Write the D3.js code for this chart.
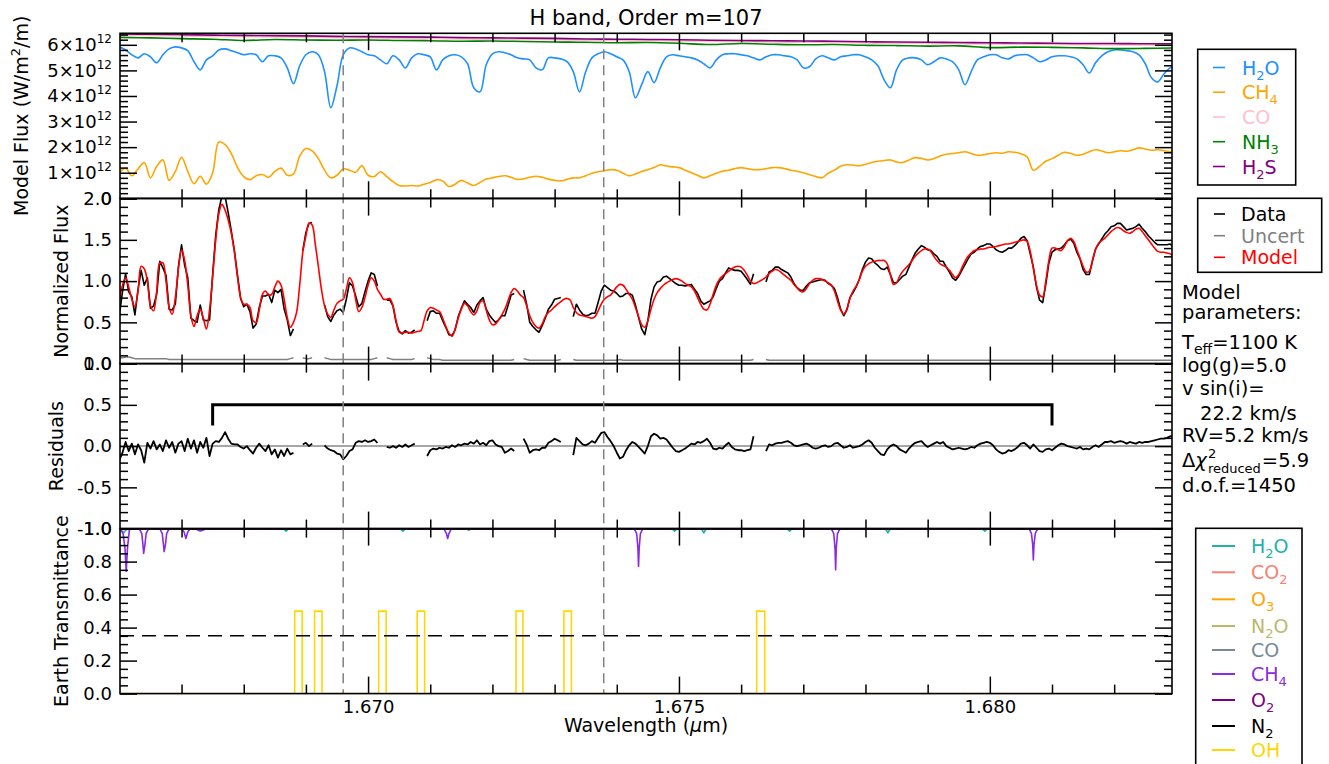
<!DOCTYPE html>
<html>
<head>
<meta charset="utf-8">
<script src="https://cdn.jsdelivr.net/npm/d3@7"></script>
<style>
  body { margin: 0; background: #fff; }
  text { font-family: "DejaVu Sans", sans-serif; }
</style>
</head>
<body>
<svg id="chart" width="1329" height="764"></svg>
<script>
// ---------------- data ----------------
const titleText = "H band, Order m=107";

// Observed spectrum grid (wavelength in microns)
const gridStart = 1.66600, gridStep = 0.00005;

const modelFlux = [
  0.76,0.95,1.04,0.93,0.78,0.69,0.88,1.18,1.15,1.00,0.70,0.64,0.88,1.22,1.22,1.00,0.68,0.60,0.80,1.15,
  1.38,1.25,0.95,0.58,0.45,0.58,0.66,0.55,0.42,0.65,1.05,1.50,1.82,1.93,1.86,1.74,1.58,1.35,1.05,0.80,
  0.72,0.72,0.68,0.52,0.50,0.65,0.84,0.88,0.83,0.84,0.93,1.00,0.95,0.78,0.56,0.44,0.50,0.62,0.95,1.35,
  1.55,1.70,1.68,1.45,1.18,0.90,0.70,0.60,0.56,0.65,0.73,0.76,0.78,0.90,1.04,0.98,0.78,0.63,0.68,0.80,
  0.95,1.04,1.00,0.90,0.84,0.78,0.78,0.79,0.70,0.52,0.38,0.37,0.38,0.38,0.37,0.38,0.39,0.40,0.52,0.64,
  0.68,0.67,0.65,0.63,0.55,0.45,0.37,0.33,0.42,0.55,0.66,0.73,0.70,0.63,0.59,0.64,0.74,0.76,0.65,0.53,
  0.47,0.48,0.53,0.59,0.66,0.76,0.86,0.91,0.88,0.83,0.80,0.70,0.58,0.50,0.45,0.43,0.48,0.57,0.62,0.65,
  0.69,0.72,0.75,0.78,0.79,0.77,0.68,0.62,0.59,0.58,0.57,0.56,0.55,0.57,0.64,0.72,0.78,0.81,0.83,0.88,
  0.93,0.96,0.95,0.90,0.84,0.78,0.68,0.57,0.47,0.44,0.52,0.66,0.78,0.86,0.91,0.95,0.98,1.00,1.02,1.03,
  1.02,1.00,0.97,0.95,0.93,0.88,0.80,0.72,0.66,0.65,0.72,0.84,0.95,1.02,1.06,1.09,1.12,1.15,1.17,1.18,
  1.17,1.13,1.07,1.00,0.97,0.98,1.00,1.02,1.05,1.09,1.12,1.14,1.13,1.10,1.07,1.04,1.01,0.96,0.92,0.88,
  0.87,0.91,0.97,1.01,1.03,1.03,1.02,1.00,0.98,0.95,0.88,0.76,0.65,0.60,0.66,0.79,0.88,0.94,1.02,1.12,
  1.18,1.21,1.23,1.24,1.25,1.25,1.25,1.21,1.08,0.96,0.98,1.06,1.12,1.16,1.20,1.25,1.30,1.34,1.37,1.39,
  1.39,1.36,1.30,1.25,1.21,1.19,1.17,1.13,1.08,1.04,1.08,1.16,1.24,1.30,1.34,1.37,1.38,1.39,1.39,1.40,
  1.41,1.41,1.42,1.43,1.44,1.45,1.45,1.46,1.47,1.48,1.49,1.50,1.48,1.36,1.15,0.95,0.83,0.81,1.00,1.25,
  1.40,1.40,1.38,1.37,1.42,1.49,1.52,1.48,1.38,1.28,1.18,1.11,1.12,1.25,1.38,1.46,1.49,1.52,1.56,1.60,
  1.63,1.65,1.64,1.61,1.59,1.58,1.60,1.63,1.64,1.60,1.55,1.50,1.45,1.40,1.36,1.35,1.35,1.34,1.33,1.30
];

// data minus model; null where pixels are masked
const residuals = [
  -0.17,-0.08,0.05,-0.06,0.03,-0.10,0.02,-0.05,-0.20,0.04,-0.03,0.06,-0.04,0.02,-0.06,0.07,-0.02,0.05,-0.08,0.03,
  0.06,-0.06,0.09,-0.03,0.07,-0.08,0.05,-0.02,0.10,-0.12,0.03,0.06,0.05,0.10,0.17,0.09,0.03,0.02,0.02,-0.01,
  -0.03,0.00,-0.05,-0.09,-0.02,0.03,-0.02,-0.06,0.01,-0.10,-0.04,-0.14,-0.05,-0.12,-0.03,-0.10,-0.08,null,null,0.02,
  0.04,0.00,0.03,null,null,null,0.01,-0.03,-0.05,-0.06,-0.09,-0.10,-0.16,-0.12,-0.06,-0.04,0.04,0.06,0.05,0.07,
  0.05,0.06,0.08,0.04,null,null,-0.01,-0.02,0.00,-0.02,0.01,-0.01,0.02,-0.01,0.01,0.03,null,null,null,-0.12,
  -0.05,-0.03,-0.04,-0.02,-0.03,-0.01,-0.02,0.01,-0.01,0.02,0.01,0.03,0.02,0.05,0.03,0.07,0.02,0.04,0.01,0.06,
  0.07,0.02,0.00,-0.01,-0.08,-0.06,-0.03,-0.06,null,null,0.09,0.02,-0.08,-0.05,-0.04,-0.05,-0.02,-0.02,0.04,0.06,
  0.09,0.07,0.05,null,null,null,-0.11,0.10,0.06,0.02,0.01,0.03,0.06,0.04,0.10,0.16,0.17,0.11,0.06,0.00,
  -0.08,-0.15,-0.13,-0.05,0.01,0.05,0.03,-0.01,-0.05,-0.09,0.00,0.12,0.15,0.13,0.09,0.10,0.08,0.03,-0.02,-0.06,
  -0.07,-0.05,-0.03,0.00,0.03,0.02,0.05,0.04,0.06,0.09,0.04,-0.03,-0.04,-0.02,-0.03,0.01,0.04,-0.01,-0.04,-0.05,
  -0.05,-0.06,-0.05,-0.04,0.12,null,null,null,-0.06,0.02,0.01,0.03,0.04,0.04,0.05,0.06,0.04,0.01,0.00,0.01,
  0.02,0.03,0.01,-0.02,-0.03,-0.02,0.00,0.01,-0.01,0.00,0.03,0.04,0.01,-0.02,-0.01,0.01,-0.02,-0.01,0.00,0.02,
  0.05,0.07,0.04,-0.02,-0.06,-0.10,-0.11,-0.04,0.00,0.02,0.00,-0.04,-0.06,-0.08,-0.03,0.01,0.04,0.05,0.06,0.02,
  -0.01,0.01,0.03,0.05,0.03,0.05,0.00,-0.02,-0.04,-0.03,-0.02,-0.03,-0.04,-0.03,-0.01,-0.02,0.01,0.03,0.04,0.05,
  0.04,0.01,-0.04,-0.07,-0.09,-0.08,-0.05,-0.06,-0.04,-0.01,0.03,0.04,0.01,-0.03,0.02,-0.02,-0.06,-0.07,-0.04,-0.03,
  -0.05,-0.02,0.01,0.03,0.02,0.00,-0.01,-0.02,-0.03,-0.01,-0.04,-0.03,-0.04,-0.01,0.01,-0.01,0.02,0.05,0.05,0.06,
  0.04,0.05,0.06,0.05,0.03,0.05,0.04,0.03,0.05,0.04,0.05,0.05,0.06,0.07,0.08,0.09,0.09,0.10,0.12,0.11
];

const uncertainty = [
  0.07,0.07,0.08,0.08,0.07,0.06,0.06,0.06,0.06,0.06,0.06,0.06,0.06,0.06,0.06,0.06,0.05,0.05,0.05,0.05,
  0.05,0.05,0.05,0.05,0.05,0.05,0.05,0.05,0.05,0.05,0.05,0.05,0.05,0.05,0.05,0.05,0.05,0.05,0.05,0.05,
  0.05,0.05,0.05,0.05,0.05,0.05,0.05,0.05,0.05,0.05,0.05,0.05,0.05,0.05,0.05,0.06,0.07,null,null,0.07,
  0.06,0.06,0.07,null,null,null,0.07,0.06,0.05,0.05,0.05,0.05,0.05,0.05,0.05,0.05,0.05,0.05,0.05,0.05,
  0.05,0.05,0.06,0.07,null,null,0.07,0.06,0.05,0.05,0.05,0.05,0.05,0.05,0.05,0.06,null,null,null,0.07,
  0.06,0.05,0.05,0.05,0.04,0.04,0.04,0.04,0.04,0.04,0.04,0.04,0.04,0.04,0.04,0.04,0.04,0.04,0.04,0.04,
  0.04,0.04,0.04,0.04,0.04,0.04,0.04,0.05,null,null,0.06,0.05,0.04,0.04,0.04,0.04,0.04,0.04,0.04,0.04,
  0.04,0.04,0.05,null,null,null,0.05,0.04,0.04,0.04,0.04,0.04,0.04,0.04,0.04,0.04,0.04,0.04,0.04,0.04,
  0.04,0.05,0.04,0.04,0.04,0.04,0.04,0.04,0.04,0.04,0.04,0.04,0.04,0.04,0.04,0.04,0.04,0.04,0.04,0.04,
  0.04,0.04,0.04,0.04,0.04,0.04,0.04,0.04,0.04,0.04,0.04,0.04,0.04,0.04,0.04,0.04,0.04,0.04,0.04,0.04,
  0.04,0.04,0.04,0.04,0.05,null,null,null,0.05,0.04,0.04,0.04,0.04,0.04,0.04,0.04,0.04,0.04,0.04,0.04,
  0.04,0.04,0.04,0.04,0.04,0.04,0.04,0.04,0.04,0.04,0.04,0.04,0.04,0.04,0.04,0.04,0.04,0.04,0.04,0.04,
  0.04,0.04,0.04,0.04,0.04,0.04,0.04,0.04,0.04,0.04,0.04,0.04,0.04,0.04,0.04,0.04,0.04,0.04,0.04,0.04,
  0.04,0.04,0.04,0.04,0.04,0.04,0.04,0.04,0.04,0.04,0.04,0.04,0.04,0.04,0.04,0.04,0.04,0.04,0.04,0.04,
  0.04,0.04,0.04,0.04,0.04,0.04,0.04,0.04,0.04,0.04,0.04,0.04,0.04,0.04,0.04,0.04,0.04,0.04,0.04,0.04,
  0.04,0.04,0.04,0.04,0.04,0.04,0.04,0.04,0.04,0.04,0.04,0.04,0.04,0.04,0.04,0.04,0.04,0.04,0.04,0.04,
  0.04,0.04,0.04,0.04,0.04,0.04,0.04,0.04,0.04,0.04,0.04,0.04,0.04,0.04,0.04,0.04,0.04,0.04,0.04,0.04
];

// Molecular model fluxes (W/m^2/m), sampled every 0.0001 micron
const speciesStart = 1.66600, speciesStep = 0.0001;
const fluxH2O = [
  5.92,5.80,5.61,5.49,5.65,5.53,5.30,5.61,5.84,5.92,5.88,5.77,5.34,5.02,5.41,5.57,5.80,5.84,5.77,5.69,
  5.61,5.65,5.61,5.34,5.57,5.57,5.49,5.10,4.48,5.18,5.61,5.73,5.61,4.95,3.54,4.40,5.61,5.88,5.84,5.73,
  5.61,5.57,5.41,5.26,5.57,5.41,5.10,5.49,5.65,5.61,5.53,5.02,5.41,5.57,5.61,5.53,5.26,4.32,4.16,5.22,
  5.65,5.73,5.69,5.61,5.49,5.45,5.41,5.10,5.02,5.49,5.49,5.45,5.34,4.95,4.16,4.95,5.49,5.65,5.73,5.65,
  5.53,5.41,4.95,3.93,4.44,4.95,4.52,5.10,5.53,5.61,5.57,5.53,5.49,5.41,5.26,5.10,5.41,5.61,5.65,5.65,
  5.61,5.57,5.49,5.41,5.53,5.61,5.61,5.57,5.53,5.41,5.10,5.14,5.45,5.57,5.49,5.41,5.53,5.57,5.61,5.61,
  5.53,5.41,5.18,4.63,4.32,5.02,5.41,5.49,5.49,5.41,5.22,5.34,5.49,5.45,5.34,5.02,4.44,4.95,5.41,5.53,
  5.61,5.61,5.49,5.45,5.57,5.61,5.61,5.49,5.34,5.41,5.53,5.57,5.57,5.53,5.45,5.22,4.90,5.30,5.57,5.73,
  5.80,5.80,5.77,5.73,5.61,5.26,4.71,4.55,4.86,5.10,5.18
].map(v => v * 1e12);
const fluxCH4 = [
  0.99,1.18,0.88,1.15,1.40,0.80,1.25,1.50,0.70,1.05,1.60,1.05,0.57,0.86,0.55,1.00,2.20,2.10,1.75,1.20,
  0.85,0.73,0.88,0.93,0.82,1.05,1.18,0.90,0.95,1.65,1.95,1.85,1.55,1.10,0.80,0.90,1.15,1.10,1.02,1.27,
  0.90,0.85,1.04,0.85,0.65,0.50,0.48,0.50,0.48,0.55,0.62,0.72,0.68,0.46,0.55,0.70,0.60,0.50,0.62,0.75,
  0.80,0.85,0.88,0.82,0.74,0.76,0.82,0.86,0.82,0.75,0.70,0.68,0.74,0.80,0.80,0.88,0.98,1.04,1.08,1.12,
  1.10,0.98,0.88,0.95,1.05,1.12,1.20,1.31,1.26,1.23,1.20,1.10,1.00,0.90,0.80,0.88,0.98,1.06,1.10,1.16,
  1.20,1.16,1.12,1.12,1.16,1.20,1.20,1.16,1.10,1.06,1.00,0.92,0.85,0.80,0.98,1.10,1.25,1.31,1.30,1.27,
  1.33,1.40,1.45,1.48,1.50,1.42,1.40,1.50,1.59,1.56,1.50,1.55,1.65,1.72,1.75,1.78,1.82,1.75,1.68,1.70,
  1.75,1.78,1.76,1.82,1.80,1.74,1.62,1.10,1.25,1.45,1.55,1.68,1.80,1.75,1.68,1.72,1.82,1.90,1.85,1.78,
  1.82,1.86,1.84,1.90,1.97,1.93,1.88,1.90,1.86,1.82,1.80
].map(v => v * 1e12);

// Smoothly varying species, sampled every 0.0005 micron
const coarseStart = 1.66600, coarseStep = 0.0005;
const fluxCO = [
  6.37,6.36,6.35,6.33,6.32,6.31,6.30,6.28,6.27,6.26,6.25,6.23,6.22,6.21,6.20,6.18,6.17,6.16,6.15,6.13,
  6.12,6.11,6.10,6.09,6.07,6.06,6.05,6.04,6.03,6.02,6.01,6.00,6.00,5.99,5.99
].map(v => v * 1e12);
const fluxNH3 = [
  6.29,6.27,6.24,6.22,6.17,6.21,6.19,6.18,6.19,6.17,6.16,6.14,6.15,6.13,6.11,6.10,6.08,6.09,6.06,6.01,
  6.05,6.02,6.00,6.01,5.98,5.97,5.95,5.96,5.89,5.91,5.90,5.88,5.85,5.86,5.88
].map(v => v * 1e12);
const fluxH2S = [
  6.42,6.41,6.40,6.38,6.37,6.36,6.35,6.33,6.32,6.31,6.30,6.28,6.27,6.26,6.25,6.23,6.22,6.21,6.20,6.18,
  6.17,6.16,6.15,6.14,6.12,6.11,6.10,6.09,6.08,6.07,6.06,6.05,6.05,6.04,6.04
].map(v => v * 1e12);

// Telluric transmittance
const earthCH4Wave = [
  1.66600,1.66603,1.66606,1.66609,1.66611,1.66613,1.66616,1.66619,
  1.66632,1.66636,1.66638,1.66639,1.66641,1.66643,1.66647,
  1.66665,1.66669,1.66671,1.66672,1.66674,1.66676,1.66680,
  1.66700,1.66704,1.66707,1.66710,1.66714,
  1.66722,1.66727,1.66730,1.66734,1.66740,
  1.67122,1.67126,1.67128,1.67130,1.67134,
  1.67428,1.67432,1.67434,1.67435,1.67436,1.67438,1.67442,
  1.67745,1.67749,1.67751,1.67752,1.67753,1.67755,1.67759,
  1.68063,1.68067,1.68069,1.68070,1.68071,1.68073,1.68077,
  1.68300
];
const earthCH4Trans = [
  1.00,0.99,0.97,0.88,0.74,0.88,0.99,1.00,
  1.00,0.97,0.90,0.85,0.90,0.97,1.00,
  1.00,0.97,0.90,0.86,0.90,0.97,1.00,
  1.00,0.98,0.94,0.98,1.00,
  1.00,0.99,0.985,0.99,1.00,
  1.00,0.97,0.94,0.97,1.00,
  1.00,0.97,0.88,0.77,0.88,0.97,1.00,
  1.00,0.97,0.88,0.75,0.88,0.97,1.00,
  1.00,0.97,0.90,0.81,0.90,0.97,1.00,
  1.00
];
const earthH2OWave = [
  1.66600,1.66604,1.66607,1.66610,1.66615,
  1.66864,1.66868,1.66872,
  1.67052,1.67056,1.67060,
  1.67158,1.67162,1.67166,
  1.67489,1.67493,1.67497,
  1.67536,1.67540,1.67544,
  1.67674,1.67678,1.67682,
  1.67832,1.67836,1.67840,
  1.67988,1.67992,1.67996,
  1.68300
];
const earthH2OTrans = [
  1.00,0.985,0.975,0.99,1.00,
  1.00,0.985,1.00,
  1.00,0.985,1.00,
  1.00,0.99,1.00,
  1.00,0.985,1.00,
  1.00,0.975,1.00,
  1.00,0.985,1.00,
  1.00,0.975,1.00,
  1.00,0.985,1.00,
  1.00
];
const flatWave = [1.66600, 1.68300];
const flatTrans = [1.00, 1.00];

// Masked OH sky lines
const ohStart = [1.66882, 1.66914, 1.67017, 1.67079, 1.67238, 1.67315, 1.67625];
const ohEnd   = [1.66894, 1.66926, 1.67029, 1.67091, 1.67249, 1.67327, 1.67638];
const ohLevel = 0.5;
const transThreshold = 0.35;

// Marked features and fitted range
const markedWaves = [1.66960, 1.67379];
const fitRange = [1.6675, 1.6810];

// Tick values
const xMajor = [1.670, 1.675, 1.680];
const xTickLabels = ["1.670", "1.675", "1.680"];

// ---------------- layout ----------------
const svg = d3.select("#chart");
const plotLeft = 120, plotRight = 1172;
const panelTop = [33.3, 198.6, 363.6, 528.6];
const panelH = 165;

const x = d3.scaleLinear().domain([1.66601, 1.68293]).range([plotLeft, plotRight]);
const yFlux  = d3.scaleLinear().domain([0, 6.45e12]).range([panelTop[0] + panelH, panelTop[0]]);
const yNorm  = d3.scaleLinear().domain([0, 2]).range([panelTop[1] + panelH, panelTop[1]]);
const yRes   = d3.scaleLinear().domain([-1, 1]).range([panelTop[2] + panelH, panelTop[2]]);
const yTrans = d3.scaleLinear().domain([0, 1]).range([panelTop[3] + panelH, panelTop[3]]);

const defs = svg.append("defs");
panelTop.forEach((t, k) => {
  defs.append("clipPath").attr("id", "clip" + k)
    .append("rect").attr("x", plotLeft).attr("y", t).attr("width", plotRight - plotLeft).attr("height", panelH);
});

const gridWave = modelFlux.map((_, i) => gridStart + i * gridStep);
const dataFlux = modelFlux.map((m, i) => residuals[i] === null ? null : m + residuals[i]);
const speciesWave = fluxH2O.map((_, j) => speciesStart + j * speciesStep);
const coarseWave = fluxNH3.map((_, j) => coarseStart + j * coarseStep);

function drawSeries(g, waves, vals, yScale, color, width, curve) {
  const pts = waves.map((w, i) => [w, vals[i]]);
  const line = d3.line()
    .defined(d => d[1] !== null)
    .x(d => x(d[0])).y(d => yScale(d[1]));
  if (curve) line.curve(curve);
  g.append("path").datum(pts)
    .attr("fill", "none").attr("stroke", color).attr("stroke-width", width)
    .attr("stroke-linejoin", "round").attr("d", line);
}

// ---- panel 1: molecular model fluxes
const p1 = svg.append("g").attr("clip-path", "url(#clip0)");
const smooth = d3.curveCatmullRom.alpha(0.5);
drawSeries(p1, speciesWave, fluxH2O, yFlux, "#1e90ff", 1.6, smooth);
drawSeries(p1, speciesWave, fluxCH4, yFlux, "#ffa500", 1.6, smooth);
drawSeries(p1, coarseWave, fluxCO, yFlux, "#ffc0cb", 1.6, smooth);
drawSeries(p1, coarseWave, fluxNH3, yFlux, "#008000", 1.6, smooth);
drawSeries(p1, coarseWave, fluxH2S, yFlux, "#800080", 1.6, smooth);

// ---- panel 2: normalized flux
const p2 = svg.append("g").attr("clip-path", "url(#clip1)");
drawSeries(p2, gridWave, dataFlux, yNorm, "#000", 1.6);
drawSeries(p2, gridWave, uncertainty, yNorm, "#808080", 1.5);
drawSeries(p2, gridWave, modelFlux, yNorm, "#ff0000", 1.6, smooth);

// ---- panel 3: residuals
const p3 = svg.append("g").attr("clip-path", "url(#clip2)");
p3.append("line").attr("x1", plotLeft).attr("x2", plotRight)
  .attr("y1", yRes(0)).attr("y2", yRes(0)).attr("stroke", "#888").attr("stroke-width", 1.5);
drawSeries(p3, gridWave, residuals, yRes, "#000", 1.8);
p3.append("path")
  .attr("d", `M${x(fitRange[0])},${yRes(0.25)}V${yRes(0.5)}H${x(fitRange[1])}V${yRes(0.25)}`)
  .attr("fill", "none").attr("stroke", "#000").attr("stroke-width", 3);

// ---- panel 4: Earth transmittance
const p4 = svg.append("g").attr("clip-path", "url(#clip3)");
drawSeries(p4, earthH2OWave, earthH2OTrans, yTrans, "#20b2aa", 1.6);
drawSeries(p4, flatWave, flatTrans, yTrans, "#fa8072", 1.6);
drawSeries(p4, flatWave, flatTrans, yTrans, "#ffa500", 1.6);
drawSeries(p4, flatWave, flatTrans, yTrans, "#bdb76b", 1.6);
drawSeries(p4, flatWave, flatTrans, yTrans, "#778899", 1.6);
drawSeries(p4, earthCH4Wave, earthCH4Trans, yTrans, "#8a2be2", 1.6);
drawSeries(p4, flatWave, flatTrans, yTrans, "#800080", 1.6);
drawSeries(p4, flatWave, flatTrans, yTrans, "#000000", 1.6);
// OH mask outline
const ohPts = [[x.domain()[0], 0]];
ohStart.forEach((s, k) => {
  ohPts.push([s, 0], [s, ohLevel], [ohEnd[k], ohLevel], [ohEnd[k], 0]);
});
ohPts.push([x.domain()[1], 0]);
p4.append("path").datum(ohPts).attr("fill", "none").attr("stroke", "#ffd700").attr("stroke-width", 1.6)
  .attr("d", d3.line().x(d => x(d[0])).y(d => yTrans(d[1])));
p4.append("line").attr("x1", plotLeft).attr("x2", plotRight)
  .attr("y1", yTrans(transThreshold)).attr("y2", yTrans(transThreshold))
  .attr("stroke", "#000").attr("stroke-width", 1.5).attr("stroke-dasharray", "14,8");

// ---- vertical markers through every panel
markedWaves.forEach(w => {
  svg.append("line").attr("x1", x(w)).attr("x2", x(w))
    .attr("y1", panelTop[0]).attr("y2", panelTop[3] + panelH)
    .attr("stroke", "#808080").attr("stroke-width", 1.5).attr("stroke-dasharray", "10,6");
});

// ---------------- axes ----------------
const fontTick = "18px";
const xAll = d3.range(1666, 1684).map(v => v / 1000).filter(v => v >= x.domain()[0] && v <= x.domain()[1]);
const xMinor = xAll.filter(v => !xMajor.some(m => Math.abs(m - v) < 1e-9));

function styleAxis(sel) {
  sel.select(".domain").remove();
  sel.selectAll("line").attr("stroke", "#000").attr("stroke-width", 1.5);
  sel.selectAll("text").attr("font-family", "DejaVu Sans, sans-serif").style("font-size", fontTick).attr("fill", "#000");
}

function panelAxes(k, yScale, yMajor, yMinor, fmt) {
  const top = panelTop[k], bottom = top + panelH;
  const g = svg.append("g");
  g.append("g").attr("transform", `translate(0,${top})`)
    .call(d3.axisTop(x).tickValues(xMinor).tickSize(-9).tickFormat("")).call(styleAxis);
  g.append("g").attr("transform", `translate(0,${top})`)
    .call(d3.axisTop(x).tickValues(xMajor).tickSize(-17).tickFormat("")).call(styleAxis);
  g.append("g").attr("transform", `translate(0,${bottom})`)
    .call(d3.axisBottom(x).tickValues(xMinor).tickSize(-9).tickFormat("")).call(styleAxis);
  g.append("g").attr("transform", `translate(0,${bottom})`)
    .call(d3.axisBottom(x).tickValues(xMajor).tickSize(-17).tickPadding(7)
      .tickFormat(k === 3 ? (d, i) => xTickLabels[i] : "")).call(styleAxis);
  g.append("g").attr("transform", `translate(${plotLeft},0)`)
    .call(d3.axisLeft(yScale).tickValues(yMinor).tickSize(-8).tickFormat("")).call(styleAxis);
  g.append("g").attr("transform", `translate(${plotRight},0)`)
    .call(d3.axisRight(yScale).tickValues(yMinor).tickSize(-8).tickFormat("")).call(styleAxis);
  const ly = g.append("g").attr("transform", `translate(${plotLeft},0)`)
    .call(d3.axisLeft(yScale).tickValues(yMajor).tickSize(-17).tickPadding(8).tickFormat(fmt)).call(styleAxis);
  g.append("g").attr("transform", `translate(${plotRight},0)`)
    .call(d3.axisRight(yScale).tickValues(yMajor).tickSize(-17).tickFormat("")).call(styleAxis);
  g.append("rect").attr("x", plotLeft).attr("y", top).attr("width", plotRight - plotLeft).attr("height", panelH)
    .attr("fill", "none").attr("stroke", "#000").attr("stroke-width", 1.6);
  return ly;
}

const fluxMajor = [0, 1e12, 2e12, 3e12, 4e12, 5e12, 6e12];
const fluxMinor = d3.range(1, 33).map(v => v * 0.2e12).filter(v => fluxMajor.every(m => Math.abs(m - v) > 1));
const ly1 = panelAxes(0, yFlux, fluxMajor, fluxMinor, d => d === 0 ? "0" : `${Math.round(d / 1e12)}×10`);
ly1.selectAll(".tick text").each(function (d) {
  if (d > 0) d3.select(this).append("tspan").attr("dy", -8).style("font-size", "12px").text("12");
});
const tenth = (a, b) => d3.range(a, b + 1).map(v => v / 10);
panelAxes(1, yNorm, [0, 0.5, 1, 1.5, 2], tenth(0, 20).filter(v => Math.abs(v * 2 - Math.round(v * 2)) > 1e-6), d3.format(".1f"));
panelAxes(2, yRes, [-1, -0.5, 0, 0.5, 1], tenth(-10, 10).filter(v => Math.abs(v * 2 - Math.round(v * 2)) > 1e-6), d => d3.format(".1f")(d).replace("−", "-"));
panelAxes(3, yTrans, [0, 0.2, 0.4, 0.6, 0.8, 1.0], d3.range(0, 21).map(v => v / 20).filter(v => Math.abs(v * 5 - Math.round(v * 5)) > 1e-6), d3.format(".1f"));

// ---------------- text ----------------
function rich(parent, xPos, yPos, parts, size, color) {
  const t = parent.append("text").attr("x", xPos).attr("y", yPos)
    .style("font-size", size + "px").attr("fill", color || "#000");
  let shift = 0;
  parts.forEach(p => {
    const target = p.sub ? Math.round(size * 0.28) : p.sup ? -Math.round(size * 0.4) : 0;
    const s = t.append("tspan").attr("dy", target - shift).text(p.t);
    if (p.sub || p.sup) s.style("font-size", Math.round(size * 0.7) + "px");
    if (p.italic) s.style("font-style", "italic");
    shift = target;
  });
  return t;
}

svg.append("text").attr("x", (plotLeft + plotRight) / 2).attr("y", 25).attr("text-anchor", "middle")
  .style("font-size", "21px").text(titleText);

rich(svg, 0, 0, [{t: "Wavelength ("}, {t: "μ", italic: true}, {t: "m)"}], 19)
  .attr("x", (plotLeft + plotRight) / 2).attr("y", 732).attr("text-anchor", "middle");

function yLabel(parts, xBase, yMid) {
  const g = svg.append("g").attr("transform", `translate(${xBase},${yMid}) rotate(-90)`);
  rich(g, 0, 0, parts, 19).attr("text-anchor", "middle");
}
yLabel([{t: "Model Flux (W/m"}, {t: "2", sup: true}, {t: "/m)"}], 28, panelTop[0] + panelH / 2);
yLabel([{t: "Normalized Flux"}], 68, panelTop[1] + panelH / 2);
yLabel([{t: "Residuals"}], 63, panelTop[2] + panelH / 2);
yLabel([{t: "Earth Transmittance"}], 68, panelTop[3] + panelH / 2);

// ---------------- legends ----------------
function legendBox(bx, by, bw, bh, entries, lineX1, lineX2, textX, baselines, lineW) {
  svg.append("rect").attr("x", bx).attr("y", by).attr("width", bw).attr("height", bh)
    .attr("fill", "#fff").attr("stroke", "#000").attr("stroke-width", 1.6);
  entries.forEach((e, i) => {
    const yb = baselines[i];
    svg.append("line").attr("x1", lineX1).attr("x2", lineX2).attr("y1", yb - 7).attr("y2", yb - 7)
      .attr("stroke", e.color).attr("stroke-width", lineW);
    rich(svg, textX, yb, e.parts, 19, e.color);
  });
}

legendBox(1197.7, 49.3, 98, 135.7, [
  {color: "#1e90ff", parts: [{t: "H"}, {t: "2", sub: true}, {t: "O"}]},
  {color: "#ffa500", parts: [{t: "CH"}, {t: "4", sub: true}]},
  {color: "#ffc0cb", parts: [{t: "CO"}]},
  {color: "#008000", parts: [{t: "NH"}, {t: "3", sub: true}]},
  {color: "#800080", parts: [{t: "H"}, {t: "2", sub: true}, {t: "S"}]}
], 1213, 1225, 1242, [74.5, 99.2, 124, 148.7, 173.5], 1.6);

legendBox(1197.7, 198.3, 124, 74, [
  {color: "#000000", parts: [{t: "Data"}]},
  {color: "#808080", parts: [{t: "Uncert"}]},
  {color: "#ff0000", parts: [{t: "Model"}]}
], 1214, 1225, 1241, [221, 242.7, 264.3], 1.6);

legendBox(1195.7, 528.3, 106.3, 262, [
  {color: "#20b2aa", parts: [{t: "H"}, {t: "2", sub: true}, {t: "O"}]},
  {color: "#fa8072", parts: [{t: "CO"}, {t: "2", sub: true}]},
  {color: "#ffa500", parts: [{t: "O"}, {t: "3", sub: true}]},
  {color: "#bdb76b", parts: [{t: "N"}, {t: "2", sub: true}, {t: "O"}]},
  {color: "#778899", parts: [{t: "CO"}]},
  {color: "#8a2be2", parts: [{t: "CH"}, {t: "4", sub: true}]},
  {color: "#800080", parts: [{t: "O"}, {t: "2", sub: true}]},
  {color: "#000000", parts: [{t: "N"}, {t: "2", sub: true}]},
  {color: "#ffd700", parts: [{t: "OH"}]}
], 1212, 1235, 1251, [553, 579.3, 606.3, 633, 657, 681, 707, 733, 757], 2);

// ---------------- fit parameters ----------------
const px = 1182, ps = 19.5;
rich(svg, px, 298.7, [{t: "Model"}], ps);
rich(svg, px, 318.7, [{t: "parameters:"}], ps);
rich(svg, px, 348.7, [{t: "T"}, {t: "eff", sub: true}, {t: "=1100 K"}], ps);
rich(svg, px, 372, [{t: "log(g)=5.0"}], ps);
rich(svg, px, 395, [{t: "v sin(i)="}], ps);
rich(svg, px + 18, 420, [{t: "22.2 km/s"}], ps);
rich(svg, px, 442, [{t: "RV=5.2 km/s"}], ps);
(function () {
  const yb = 467;
  const head = rich(svg, px, yb, [{t: "Δ"}, {t: "χ", italic: true}], ps);
  const hw = head.node().getComputedTextLength();
  const sub = rich(svg, px + hw + 1, yb + 6, [{t: "reduced"}], 13);
  rich(svg, px + hw + 1, yb - 9, [{t: "2"}], 13);
  const sw = sub.node().getComputedTextLength();
  rich(svg, px + hw + 1 + sw + 1, yb, [{t: "=5.9"}], ps);
})();
rich(svg, px, 492, [{t: "d.o.f.=1450"}], ps);
</script>
</body>
</html>
